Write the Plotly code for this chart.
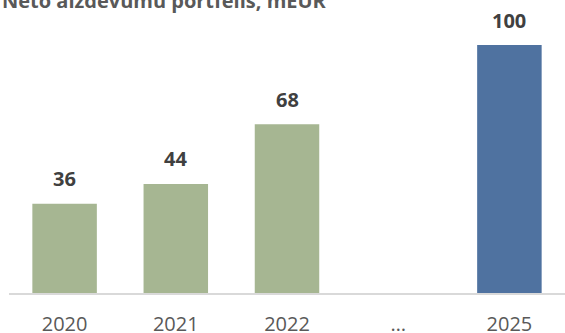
import plotly.graph_objects as go

categories = ["2020", "2021", "2022", "…", "2025"]
values = [36, 44, 68, None, 100]
labels = ["36", "44", "68", "", "100"]
colors = ["#a6b692", "#a6b692", "#a6b692", "#a6b692", "#4f72a0"]
title_text = "Neto aizdevumu portfelis, mEUR"

fig = go.Figure()
fig.add_trace(go.Bar(x=categories, y=values, marker=dict(color=colors, line=dict(width=0)),
                     hoverinfo="skip"))

for i, (v, t) in enumerate(zip(values, labels)):
    if v is None:
        continue
    fig.add_annotation(x=i, y=v, text=t, showarrow=False, yanchor="middle", yshift=25,
                       font=dict(family="Open Sans", size=20, color="#404040", weight="bold"))

fig.add_annotation(xref="paper", yref="paper", x=-9/556, y=1 + 20/273, xanchor="left", yanchor="middle",
                   yshift=0, text="<b>" + title_text + "</b>", showarrow=False,
                   font=dict(family="Open Sans", size=20, color="#595959"))

fig.update_layout(
    width=565, height=333,
    margin=dict(l=9, r=0, t=20, b=40, autoexpand=False),
    paper_bgcolor="white", plot_bgcolor="white",
    bargap=0.42, showlegend=False,
    xaxis=dict(type="category", categoryorder="array", categoryarray=categories,
               range=[-0.5, 4.5], showline=True, linecolor="#d9d9d9", linewidth=2,
               ticks="", showgrid=False, ticklabelstandoff=12, automargin=False,
               tickfont=dict(family="Open Sans", size=20, color="#595959")),
    yaxis=dict(range=[0, 273 / 2.48], visible=False, showgrid=False, zeroline=False,
               automargin=False),
)

fig.write_html("out.html")
